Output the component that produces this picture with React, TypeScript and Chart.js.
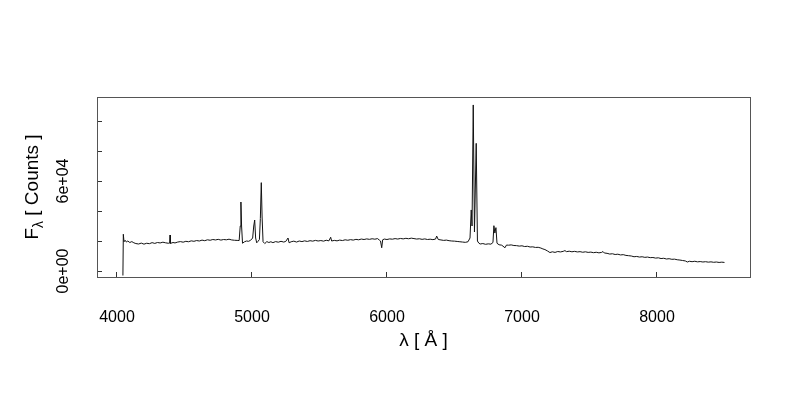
import React, { useEffect, useRef } from "react";
import { Chart, registerables } from "chart.js";

Chart.register(...registerables);

// Wavelength (Angstrom) and flux (counts)
const WAVELENGTH = [
  4044, 4047, 4052, 4060, 4070, 4080, 4095, 4110, 4125, 4140,
  4160, 4180, 4200, 4220, 4240, 4260, 4280, 4300, 4320, 4340,
  4360, 4380, 4390, 4393, 4396, 4415, 4430, 4450, 4470, 4490, 4510,
  4530, 4550, 4570, 4590, 4610, 4630, 4650, 4670, 4690, 4710,
  4730, 4750, 4770, 4790, 4810, 4830, 4850, 4870, 4890, 4905,
  4913, 4918, 4923, 4930, 4945, 4960, 4975, 4990, 5005, 5013,
  5020, 5027, 5035, 5045, 5055, 5062, 5069, 5075, 5082, 5095,
  5110, 5125, 5140, 5155, 5175, 5195, 5215, 5235, 5250, 5267,
  5275, 5290, 5310, 5330, 5350, 5370, 5390, 5410, 5430, 5450,
  5470, 5490, 5510, 5530, 5550, 5570, 5583, 5590, 5610, 5630,
  5650, 5670, 5690, 5710, 5730, 5750, 5770, 5790, 5810, 5830,
  5850, 5870, 5890, 5910, 5930, 5945, 5952, 5961, 5968, 5980,
  6000, 6020, 6040, 6060, 6080, 6100, 6120, 6140, 6160, 6180,
  6200, 6220, 6240, 6260, 6280, 6300, 6320, 6340, 6360, 6368,
  6380, 6400, 6420, 6440, 6460, 6480, 6500, 6520, 6540, 6560,
  6580, 6600, 6615, 6624, 6630, 6639, 6648, 6661, 6670, 6680,
  6690, 6710, 6730, 6750, 6770, 6785, 6792, 6799, 6807, 6815,
  6830, 6850, 6874, 6885, 6900, 6920, 6940, 6960, 6980, 7000,
  7020, 7040, 7060, 7080, 7100, 7120, 7140, 7155, 7170, 7190,
  7207, 7225, 7245, 7265, 7285, 7305, 7318, 7330, 7350, 7370,
  7390, 7410, 7430, 7450, 7470, 7490, 7510, 7530, 7550, 7570,
  7590, 7600, 7610, 7630, 7650, 7670, 7690, 7710, 7730, 7750,
  7770, 7790, 7810, 7830, 7850, 7870, 7890, 7910, 7930, 7950,
  7970, 7990, 8010, 8030, 8050, 8070, 8090, 8110, 8130, 8150,
  8170, 8190, 8210, 8225, 8240, 8260, 8280, 8300, 8320, 8340,
  8360, 8380, 8400, 8420, 8440, 8460, 8480, 8500,
];

const FLUX = [
  -3000, 24500, 19500, 20500, 19300, 20000, 19000, 19600, 18800, 18300,
  18000, 18600, 17900, 18500, 18200, 18900, 18400, 19000, 18700, 19200,
  18800, 18500, 18600, 24000, 18400, 19000, 18700, 19300, 19600, 19200, 19800,
  19500, 20100, 19800, 20300, 20000, 20600, 20200, 20800, 20500, 21000,
  20700, 21100, 20600, 21000, 20800, 21200, 20700, 20500, 20400, 20300,
  30000, 46000, 30000, 18500, 19500, 20000, 19800, 20500, 22000, 30000,
  34000, 22000, 18800, 19800, 21000, 35000, 58900, 36000, 19500, 18300,
  19600, 19000, 19500, 18900, 19600, 19200, 19800, 19300, 19700, 22000,
  18800, 19500, 19900, 19300, 20000, 19600, 20100, 19700, 20200, 19900,
  20400, 20000, 20300, 19900, 20500, 20100, 22500, 20000, 20400, 20100,
  20600, 20300, 20800, 20500, 20900, 20600, 21100, 20800, 21300, 21000,
  21400, 21100, 21500, 21200, 21600, 20500, 20000, 15500, 20800, 21300,
  21000, 21400, 21200, 21600, 21300, 21700, 21400, 21800, 21500, 21900,
  21600, 21300, 21500, 21100, 21400, 21000, 21200, 20900, 21300, 23300,
  21000, 20700, 20400, 20600, 20200, 20000, 19900, 19700, 19500, 19300,
  19100, 19500, 22000, 40700, 30000, 110700, 26000, 85100, 20000, 18600,
  18000, 18300, 17800, 18100, 17900, 19000, 30200, 25300, 28900, 18500,
  17500, 17200, 15500, 17300, 17200, 17400, 17000, 16900, 16600, 16800,
  16300, 16500, 16000, 16100, 15700, 15800, 15300, 14700, 14300, 13300,
  12300, 12800, 12400, 13000, 12700, 13100, 13600, 12900, 13200, 12800,
  13100, 12700, 12900, 12500, 12800, 12400, 12600, 12200, 12500, 12100,
  12400, 13000, 12000, 11800, 11300, 11500, 11000, 11200, 10700, 10900,
  10400, 10200, 10000, 9500, 9700, 9300, 9500, 9100, 9300, 8900,
  9000, 8600, 8800, 8300, 8500, 8000, 8200, 7800, 7900, 7500,
  7300, 7000, 6700, 6000, 6500, 6200, 6500, 6100, 6300, 6000,
  6200, 5900, 6100, 5800, 6000, 5700, 5900, 5700,
];

const X_TICKS = [4000, 5000, 6000, 7000, 8000];
const X_TICK_LABELS = ["4000", "5000", "6000", "7000", "8000"];
const Y_TICKS = [0, 20000, 40000, 60000, 80000, 100000];
const Y_TICK_LABELS = ["0e+00", "", "", "6e+04", "", ""];
const X_TITLE = "λ [ Å ]";
const Y_TITLE_MAIN = "F";
const Y_TITLE_SUB = "λ";
const Y_TITLE_REST = " [ Counts ]";

const FONT_FAMILY = '"Liberation Sans", Arial, Helvetica, sans-serif';

const framePlugin = {
  id: "frameAndTitles",
  afterDraw(chart: any) {
    const ctx = chart.ctx as CanvasRenderingContext2D;
    const a = chart.chartArea;
    ctx.save();
    ctx.strokeStyle = "#555";
    ctx.lineWidth = 1;
    ctx.strokeRect(
      Math.round(a.left) + 0.5,
      Math.round(a.top) + 0.5,
      Math.round(a.right - a.left),
      Math.round(a.bottom - a.top)
    );
    ctx.fillStyle = "#000";
    ctx.font = `19px ${FONT_FAMILY}`;
    ctx.textAlign = "center";
    ctx.textBaseline = "middle";
    ctx.fillText(X_TITLE, (a.left + a.right) / 2, 341);

    // y title, rotated with subscript
    ctx.translate(33, (a.top + a.bottom) / 2);
    ctx.rotate(-Math.PI / 2);
    ctx.textAlign = "left";
    ctx.font = `19px ${FONT_FAMILY}`;
    const wMain = ctx.measureText(Y_TITLE_MAIN).width;
    const wRest = ctx.measureText(Y_TITLE_REST).width;
    ctx.font = `14px ${FONT_FAMILY}`;
    const wSub = ctx.measureText(Y_TITLE_SUB).width;
    const total = wMain + wSub + wRest;
    let x = -total / 2;
    ctx.font = `19px ${FONT_FAMILY}`;
    ctx.fillText(Y_TITLE_MAIN, x, 0);
    x += wMain;
    ctx.font = `14px ${FONT_FAMILY}`;
    ctx.fillText(Y_TITLE_SUB, x, 6);
    x += wSub;
    ctx.font = `19px ${FONT_FAMILY}`;
    ctx.fillText(Y_TITLE_REST, x, 0);
    ctx.restore();
  },
};

export default function App() {
  const canvasRef = useRef<HTMLCanvasElement | null>(null);

  useEffect(() => {
    if (!canvasRef.current) return;
    const points = WAVELENGTH.map((w, i) => ({ x: w, y: FLUX[i] }));
    const chart = new Chart(canvasRef.current, {
      type: "line",
      data: {
        datasets: [
          {
            data: points,
            borderColor: "#111",
            borderWidth: 1,
            pointRadius: 0,
            tension: 0,
            fill: false,
          },
        ],
      },
      options: {
        responsive: false,
        animation: false,
        events: [],
        layout: { padding: { top: 97, right: 50, left: 0, bottom: 0 } },
        plugins: {
          legend: { display: false },
          tooltip: { enabled: false },
        },
        scales: {
          x: {
            type: "linear",
            min: 3852,
            max: 8689,
            afterBuildTicks: (scale: any) => {
              scale.ticks = X_TICKS.map((v) => ({ value: v }));
            },
            afterFit: (scale: any) => {
              scale.height = 123;
            },
            grid: {
              display: true,
              drawOnChartArea: false,
              drawTicks: true,
              tickLength: -5,
              color: "#333",
            },
            border: { display: false },
            ticks: {
              autoSkip: false,
              maxRotation: 0,
              minRotation: 0,
              padding: 36,
              color: "#000",
              font: { family: FONT_FAMILY, size: 16 },
              callback: (_v: any, i: number) => X_TICK_LABELS[i],
            },
          },
          y: {
            type: "linear",
            min: -4000,
            max: 116000,
            afterBuildTicks: (scale: any) => {
              scale.ticks = Y_TICKS.map((v) => ({ value: v }));
            },
            afterFit: (scale: any) => {
              scale.width = 97;
            },
            grid: {
              display: true,
              drawOnChartArea: false,
              drawTicks: true,
              tickLength: -5,
              color: "#333",
            },
            border: { display: false },
            ticks: {
              autoSkip: false,
              minRotation: 90,
              maxRotation: 90,
              crossAlign: "center",
              padding: 16,
              color: "#000",
              font: { family: FONT_FAMILY, size: 16 },
              callback: (_v: any, i: number) => Y_TICK_LABELS[i],
            },
          },
        },
      },
      plugins: [framePlugin],
    });
    return () => chart.destroy();
  }, []);

  return (
    <div style={{ position: "absolute", left: 0, top: 0, width: 800, height: 400, background: "#fff" }}>
      <canvas ref={canvasRef} width={800} height={400} />
    </div>
  );
}
